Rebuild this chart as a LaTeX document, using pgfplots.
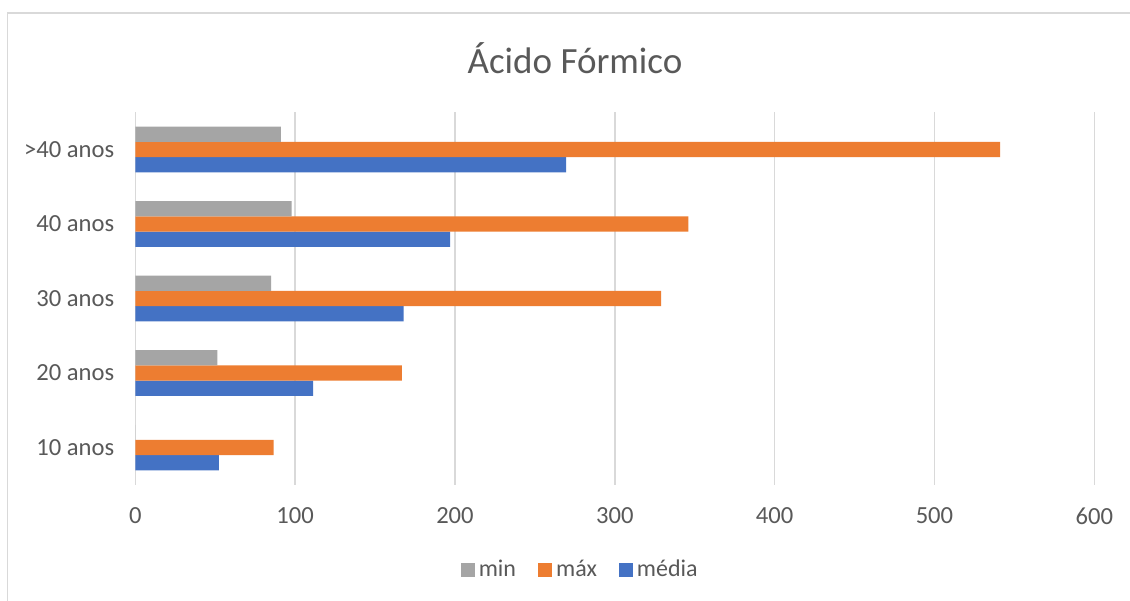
\documentclass[border=0pt]{standalone}
\usepackage{fontspec}
\setmainfont{Carlito}
\usepackage{pgfplots}
\pgfplotsset{compat=1.18}
\definecolor{cmin}{HTML}{A5A5A5}
\definecolor{cmax}{HTML}{ED7D31}
\definecolor{cmed}{HTML}{4472C4}
\definecolor{txt}{HTML}{595959}
\definecolor{gridc}{HTML}{D9D9D9}
\begin{document}
\begin{tikzpicture}
\useasboundingbox (0,0) rectangle (565pt,300pt);
\fill[white] (0,0) rectangle (565pt,300pt);
\draw[gridc, line width=0.75pt] (3.75pt,-1pt) -- (3.75pt,293.5pt) -- (566pt,293.5pt);
\begin{axis}[
  at={(67.65pt,57.6pt)}, anchor=south west,
  scale only axis, width=479.5pt, height=186.25pt,
  xbar=0pt, bar width=7.6pt,
  xmin=0, xmax=600, ymin=-0.5, ymax=4.5,
  xtick={0,100,...,600},
  ytick={0,1,2,3,4},
  yticklabels={10 anos,20 anos,30 anos,40 anos,>40 anos},
  axis line style={draw=none},
  major tick length=0pt,
  xmajorgrids=true, ymajorgrids=false,
  major grid style={draw=gridc, line width=0.75pt},
  tick label style={font=\fontsize{12.3}{14}\selectfont, text=txt},
  xticklabel style={yshift=-8pt},
  yticklabel style={xshift=-7pt},
  /pgf/number format/assume math mode=true,
  legend style={at={(0.465,-0.229)}, anchor=center, draw=none,
    font=\fontsize{12}{14}\selectfont, text=txt,
    /tikz/every even column/.append style={column sep=9pt}},
  legend columns=-1,
  reverse legend,
  legend image code/.code={\fill[#1] (0pt,-3.5pt) rectangle (7pt,3.5pt);},
]
\addplot[fill=cmed, draw=none] coordinates {(52.3,0) (111.3,1) (167.8,2) (197,3) (269.6,4)};
\addlegendentry{média}
\addplot[fill=cmax, draw=none] coordinates {(86.5,0) (166.8,1) (329,2) (346,3) (541,4)};
\addlegendentry{máx}
\addplot[fill=cmin, draw=none] coordinates {(0,0) (51.3,1) (85,2) (97.8,3) (91.1,4)};
\addlegendentry{min}
\end{axis}
\node[text=txt, font=\fontsize{18.5}{22}\selectfont] at (287.5pt,271pt) {Ácido Fórmico};
\end{tikzpicture}
\end{document}
